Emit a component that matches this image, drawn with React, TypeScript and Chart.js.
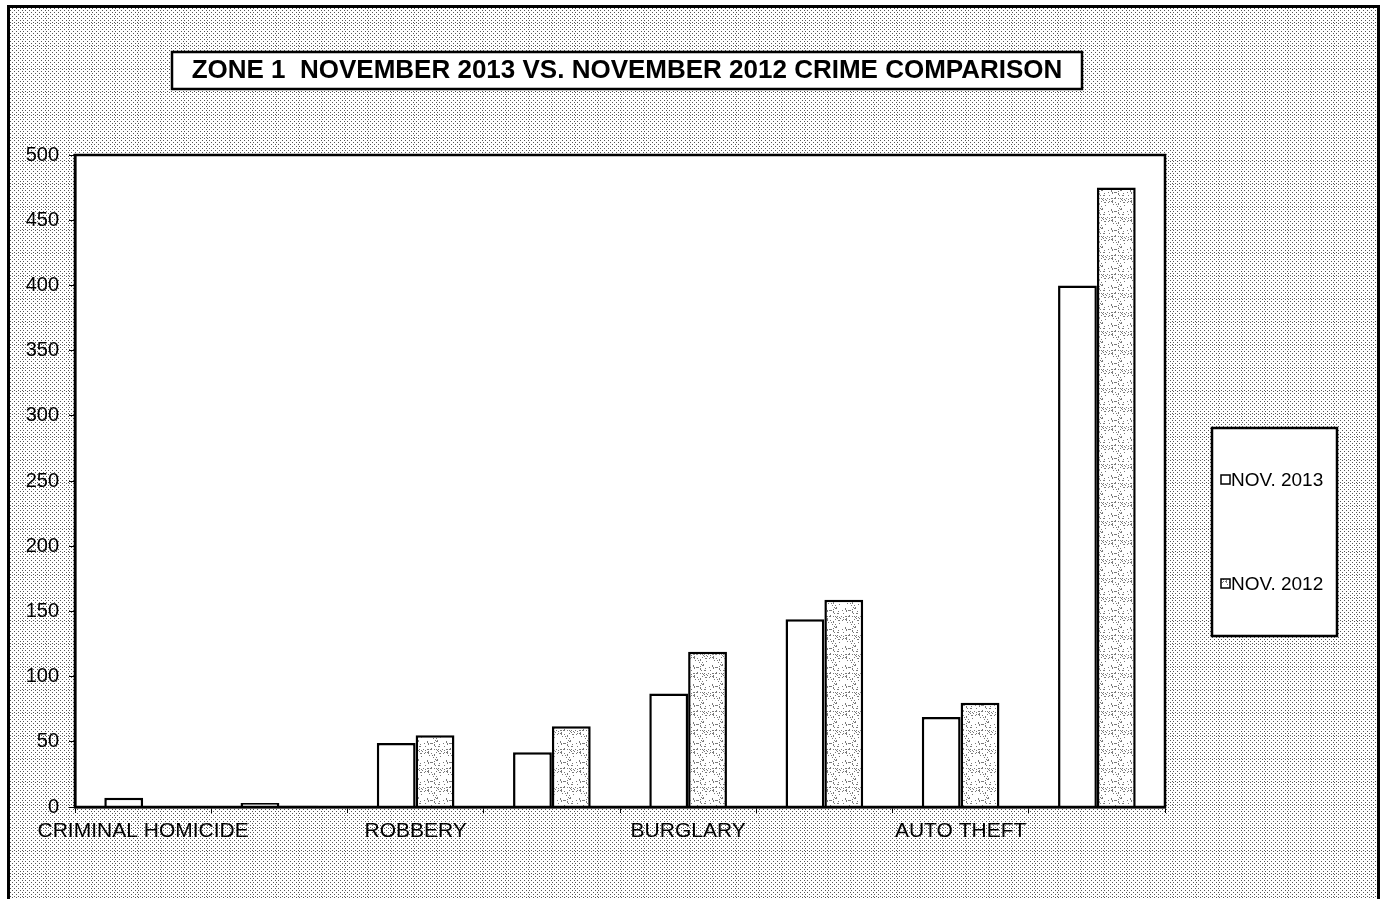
import React, { useEffect, useRef } from "react";
import { Chart, registerables } from "chart.js";

Chart.register(...registerables);

const TITLE = "ZONE 1  NOVEMBER 2013 VS. NOVEMBER 2012 CRIME COMPARISON";
const categories = [
  "CRIMINAL HOMICIDE",
  "RAPE",
  "ROBBERY",
  "AGG. ASSAULT",
  "BURGLARY",
  "LARCENY",
  "AUTO THEFT",
  "TOTAL",
];
const shownLabelIndexes = [0, 2, 4, 6];
const seriesLabels = ["NOV. 2013", "NOV. 2012"];
const nov2013 = [7, 3, 49, 42, 87, 144, 69, 400];
const nov2012 = [0, 1, 55, 62, 119, 159, 80, 475];
const yMin = 0;
const yMax = 500;
const yStep = 50;

const FONT = '"Liberation Sans", Arial, sans-serif';

// deterministic stipple texture (scanned-paper look)
function makePattern(size: number, mod: number, color: string): CanvasPattern | string {
  const c = document.createElement("canvas");
  c.width = size;
  c.height = size;
  const x = c.getContext("2d");
  if (!x) return "#ddd";
  x.fillStyle = "#fff";
  x.fillRect(0, 0, size, size);
  x.fillStyle = color;
  for (let i = 0; i < size; i++) {
    for (let j = 0; j < size; j++) {
      const h = ((i * 73856093) ^ (j * 19349663) ^ (i * j * 83492791)) >>> 0;
      if (h % mod === 0) x.fillRect(i, j, 1, 1);
    }
  }
  const p = x.createPattern(c, "repeat");
  return p || "#ddd";
}

export default function App() {
  const ref = useRef<HTMLCanvasElement | null>(null);

  useEffect(() => {
    document.body.style.margin = "0";
    const canvas = ref.current;
    if (!canvas) return;
    const bgPattern = makePattern(23, 4, "#555");
    const barPattern = makePattern(19, 9, "#7a7a7a");

    const framePlugin = {
      id: "frame",
      beforeDraw(chart: any) {
        const { ctx, chartArea: ca, width, height } = chart;
        ctx.save();
        ctx.fillStyle = "#fff";
        ctx.fillRect(0, 0, width, height);
        ctx.fillStyle = bgPattern;
        ctx.fillRect(9, 7, 1370, height - 7);
        ctx.fillStyle = "#fff";
        ctx.fillRect(ca.left, ca.top, ca.right - ca.left, ca.bottom - ca.top);
        ctx.restore();
      },
      afterDraw(chart: any) {
        const { ctx, chartArea: ca, height } = chart;
        ctx.save();
        // plot border
        ctx.strokeStyle = "#000";
        ctx.lineWidth = 2.5;
        ctx.strokeRect(ca.left, ca.top, ca.right - ca.left, ca.bottom - ca.top);
        // outer frame
        ctx.lineWidth = 3;
        ctx.beginPath();
        ctx.moveTo(8.5, height);
        ctx.lineTo(8.5, 6.5);
        ctx.lineTo(1378.5, 6.5);
        ctx.lineTo(1378.5, height);
        ctx.stroke();
        // title box
        ctx.fillStyle = "#fff";
        ctx.fillRect(172, 52, 910, 37);
        ctx.lineWidth = 2.5;
        ctx.strokeRect(172, 52, 910, 37);
        ctx.fillStyle = "#000";
        ctx.font = `bold 26px ${FONT}`;
        ctx.textAlign = "center";
        ctx.textBaseline = "middle";
        ctx.fillText(TITLE, 627, 71);
        // legend box
        ctx.fillStyle = "#fff";
        ctx.fillRect(1212, 428, 125, 208);
        ctx.lineWidth = 2.5;
        ctx.strokeRect(1212, 428, 125, 208);
        const items = [
          { label: seriesLabels[0], fill: "#fff", y: 480 },
          { label: seriesLabels[1], fill: barPattern, y: 584 },
        ];
        ctx.font = `19px ${FONT}`;
        ctx.textAlign = "left";
        items.forEach((it) => {
          ctx.fillStyle = it.fill as any;
          ctx.fillRect(1221, it.y - 5, 9, 9);
          ctx.lineWidth = 1.5;
          ctx.strokeStyle = "#000";
          ctx.strokeRect(1221, it.y - 5, 9, 9);
          ctx.fillStyle = "#000";
          ctx.fillText(it.label, 1231, it.y + 1);
        });
        ctx.restore();
      },
    };

    const chart = new Chart(canvas, {
      type: "bar",
      data: {
        labels: categories,
        datasets: [
          {
            label: seriesLabels[0],
            data: nov2013,
            backgroundColor: "#ffffff",
            borderColor: "#000",
            borderWidth: 2.5,
            categoryPercentage: 0.57,
            barPercentage: 1.0,
          },
          {
            label: seriesLabels[1],
            data: nov2012,
            backgroundColor: barPattern as any,
            borderColor: "#000",
            borderWidth: 2.5,
            categoryPercentage: 0.57,
            barPercentage: 1.0,
          },
        ],
      },
      options: {
        animation: false,
        responsive: false,
        maintainAspectRatio: false,
        devicePixelRatio: 1,
        layout: { padding: { left: 0, top: 155, right: 217, bottom: 32 } },
        plugins: {
          legend: { display: false },
          title: { display: false },
          tooltip: { enabled: false },
        },
        scales: {
          x: {
            offset: true,
            border: { display: true, color: "#000", width: 2.5 },
            grid: {
              offset: true,
              drawOnChartArea: false,
              drawTicks: true,
              tickLength: 6,
              color: "#000",
              lineWidth: 1,
            },
            ticks: {
              autoSkip: false,
              maxRotation: 0,
              minRotation: 0,
              padding: 6,
              color: "#000",
              font: { family: FONT, size: 21 },
              callback: (_v: any, i: number) =>
                shownLabelIndexes.includes(i) ? categories[i] : "",
            },
            afterFit: (s: any) => {
              s.height = 60;
            },
          },
          y: {
            min: yMin,
            max: yMax,
            border: { display: true, color: "#000", width: 2.5 },
            grid: {
              drawOnChartArea: false,
              drawTicks: true,
              tickLength: 6,
              color: "#000",
              lineWidth: 1,
            },
            ticks: {
              stepSize: yStep,
              padding: 10,
              color: "#000",
              font: { family: FONT, size: 20 },
            },
            afterFit: (s: any) => {
              s.width = 75;
            },
          },
        },
      },
      plugins: [framePlugin],
    });

    return () => chart.destroy();
  }, []);

  return (
    <canvas
      ref={ref}
      width={1382}
      height={899}
      style={{ display: "block", width: 1382, height: 899 }}
    />
  );
}
